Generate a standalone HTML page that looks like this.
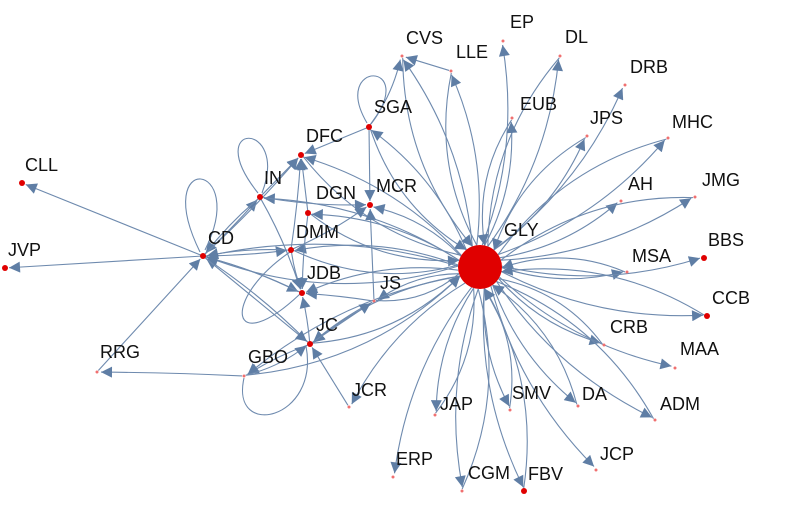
<!DOCTYPE html>
<html><head><meta charset="utf-8"><style>
html,body{margin:0;padding:0;background:#fff;width:799px;height:511px;overflow:hidden}
svg{display:block}
text{font-family:"Liberation Sans",sans-serif;font-size:18px;fill:#111}
</style></head><body>
<svg id="s" width="799" height="511" viewBox="0 0 799 511">
<defs>
<marker id="b" viewBox="0 0 10 10" refX="10" refY="5" markerWidth="16" markerHeight="11" markerUnits="userSpaceOnUse" orient="auto"><path d="M0,0 L10,5 L0,10 z" fill="#5f7ea5"/></marker></defs>
<g id="e" fill="none" stroke="#6e8aae" stroke-width="1.1"></g>
<g id="n"></g>
</svg>
<script>
var N={GLY:[480,267],CD:[203,256],CLL:[22,183],JVP:[5,268],RRG:[97,372],GBO:[244,376],JC:[310,344],JCR:[349,407],JS:[374,301],JDB:[302,293],DMM:[291,250],DGN:[308,213],MCR:[370,205],IN:[260,197],DFC:[301,155],SGA:[369,127],CVS:[402,56],LLE:[451,71],EP:[503,41],DL:[560,56],EUB:[512,118],DRB:[625,85],JPS:[587,136],MHC:[668,138],AH:[621,201],JMG:[695,197],MSA:[627,272],BBS:[704,258],CCB:[707,316],CRB:[604,345],MAA:[675,368],ADM:[655,420],DA:[578,406],JCP:[596,470],SMV:[510,410],JAP:[435,415],ERP:[393,477],CGM:[462,491],FBV:[524,491]};
var L={GLY:[504,236],CD:[208,244],CLL:[25,171],JVP:[8,256],RRG:[100,358],GBO:[248,363],JC:[316,331],JCR:[352,396],JS:[380,289],JDB:[307,279],DMM:[296,238],DGN:[316,199],MCR:[376,192],IN:[264,184],DFC:[306,142],SGA:[374,113],CVS:[406,44],LLE:[456,58],EP:[510,28],DL:[565,43],EUB:[520,110],DRB:[630,73],JPS:[590,124],MHC:[672,128],AH:[628,190],JMG:[702,186],MSA:[632,262],BBS:[708,246],CCB:[712,304],CRB:[610,333],MAA:[680,355],ADM:[660,410],DA:[582,400],JCP:[600,460],SMV:[512,399],JAP:[440,410],ERP:[396,465],CGM:[468,479],FBV:[528,480]};
var red={GLY:1,CD:1,CLL:1,JVP:1,BBS:1,CCB:1,FBV:1,JDB:1,MCR:1,JC:1,DFC:1,IN:1,DMM:1,DGN:1,SGA:1};
var E=document.getElementById('e'),s='';
function cur(a,b,c,shr,noarr){var p=N[a],q=N[b];var dx=q[0]-p[0],dy=q[1]-p[1],d=Math.hypot(dx,dy);
var sx=p[0]+dx/d*(a=='GLY'?22:2),sy=p[1]+dy/d*(a=='GLY'?22:2);var ex=q[0]-dx/d*(shr||4),ey=q[1]-dy/d*(shr||4);
var mx=(sx+ex)/2-dy*c,my=(sy+ey)/2+dx*c;s+='<path d="M'+sx+','+sy+' Q'+mx+','+my+' '+ex+','+ey+'"'+(noarr?'':' marker-end="url(#b)"')+'/>';}
var hub=['CVS','LLE','EP','DL','EUB','DRB','JPS','MHC','AH','JMG','MSA','BBS','CCB','CRB','MAA','ADM','DA','JCP','SMV','JAP','ERP','CGM','FBV','JCR','JC','JS','JDB','DMM','DGN','MCR','SGA','DFC','IN','CD','GBO'];
hub.forEach(function(t,i){cur('GLY',t,0.12);if(i%3!=2)cur(t,'GLY',0.16,22,i%2);});
[['CD','CLL',0],['CD','JVP',0],['GBO','RRG',0.01],['RRG','CD',0],['CD','IN',0.02],['IN','CD',0.05],['CD','DFC',0.03],['CD','DMM',0.03],['CD','JDB',-0.05],['JDB','CD',0.05],['JC','CD',0.05],['CD','JC',0],['DMM','CD',0.06],['JC','GBO',0.05],['GBO','JC',0.1],['JCR','JC',0],['JS','JC',0.05],['JC','JS',0],['JS','JDB',0.02],['JC','JDB',0.03],['IN','DFC',0],['DGN','DFC',0],['DMM','DFC',0.02],['SGA','DFC',0],['SGA','CVS',0.1],['LLE','CVS',0],['SGA','MCR',0],['JS','MCR',0],['IN','JDB',-0.05],['DMM','JDB',0.05],['IN','MCR',0.05],['DMM','MCR',0.05],['DGN','JDB',0.03]].forEach(function(x){cur(x[0],x[1],x[2]);});
s+='<path d="M200,252 C150,150 250,160 205,250"/><path d="M258,193 C200,120 290,120 262,193"/><path d="M367,123 C330,60 420,60 371,124"/><path d="M244,378 C230,440 320,420 306,346"/><path d="M290,252 C220,300 230,360 300,294"/>';
E.innerHTML=s;
var g='';for(var k in N){var p=N[k];var r=k=='GLY'?22:(red[k]?3:1.5);
g+='<circle cx="'+p[0]+'" cy="'+p[1]+'" r="'+r+'" fill="'+(r>1.5?'#e00000':'#f07070')+'"/>';
g+='<text x="'+L[k][0]+'" y="'+L[k][1]+'">'+k+'</text>';}
document.getElementById('n').innerHTML=g;
</script>
</body></html>
